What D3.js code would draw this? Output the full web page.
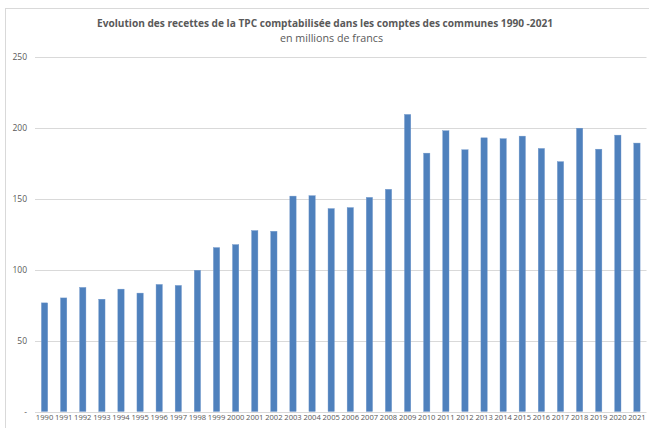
<!DOCTYPE html>
<html><head><meta charset="utf-8">
<script src="https://cdn.jsdelivr.net/npm/d3@7"></script>
<style>body{margin:0;background:#fff}svg{display:block}</style>
</head><body>
<script>
const years = ["1990","1991","1992","1993","1994","1995","1996","1997","1998","1999","2000","2001","2002","2003","2004","2005","2006","2007","2008","2009","2010","2011","2012","2013","2014","2015","2016","2017","2018","2019","2020","2021"];
const values = [76.6,80.1,87.5,79.2,86.3,83.5,89.6,88.9,99.6,115.6,117.7,127.6,127.1,151.9,152.2,143.1,143.8,151,156.7,209.5,182.2,198,184.6,193,192.4,194.2,185.5,176.2,199.8,185,194.9,189.3];
const yTicks = [0,50,100,150,200,250];
const title = "Evolution des recettes de la TPC comptabilisée dans les comptes des communes 1990 -2021";
const subtitle = "en millions de francs";

const W = 649, H = 428;
const svg = d3.select("body").append("svg").attr("width", W).attr("height", H);
const font = "'Open Sans', 'Liberation Sans', sans-serif";

// chart border
svg.append("rect").attr("x", 5.5).attr("y", 8.5).attr("width", 650).attr("height", 440)
  .attr("fill", "#fff").attr("stroke", "#d9d9d9");

const x = d3.scaleBand().domain(years).range([35, 646.5]).paddingInner(0.67).paddingOuter(0.335);
const y = d3.scaleLinear().domain([0, 250]).range([411.5, 57]);

// gridlines
svg.append("g").selectAll("line").data(yTicks).join("line")
  .attr("x1", 35).attr("x2", 646.5)
  .attr("y1", d => Math.round(y(d)) + 0.5).attr("y2", d => Math.round(y(d)) + 0.5)
  .attr("stroke", "#d9d9d9").attr("stroke-width", 1);

// y labels
const yAxis = d3.axisLeft(y).tickValues(yTicks).tickSize(0).tickPadding(0)
  .tickFormat(d => d === 0 ? "-" : d3.format("d")(d));
const gy = svg.append("g").attr("transform", "translate(27,0)").call(yAxis);
gy.select(".domain").remove();
gy.selectAll("text").attr("fill", "#595959").style("font-family", font).style("font-size", "8.5px");

// bars
svg.append("g").selectAll("rect").data(values).join("rect")
  .attr("x", (d, i) => x(years[i]))
  .attr("width", x.bandwidth())
  .attr("y", d => y(d))
  .attr("height", d => y(0) - y(d))
  .attr("fill", "#4f81bd")
  .attr("stroke", "#6f97cb").attr("stroke-width", 0.4);

// x labels
const xAxis = d3.axisBottom(x).tickSize(0).tickPadding(0);
const gx = svg.append("g").attr("transform", "translate(0,415)").call(xAxis);
gx.select(".domain").remove();
gx.selectAll("text").attr("fill", "#595959").style("font-family", font).style("font-size", "7.6px");

// titles
svg.append("text").attr("x", 325).attr("y", 27).attr("text-anchor", "middle")
  .attr("fill", "#595959").style("font-family", font).style("font-weight", "bold").style("font-size", "10px")
  .attr("textLength", 456).attr("lengthAdjust", "spacingAndGlyphs")
  .text(title);
svg.append("text").attr("x", 331.5).attr("y", 42).attr("text-anchor", "middle")
  .attr("fill", "#595959").style("font-family", font).style("font-size", "10.5px")
  .attr("textLength", 103).attr("lengthAdjust", "spacingAndGlyphs")
  .text(subtitle);
</script>
</body></html>
